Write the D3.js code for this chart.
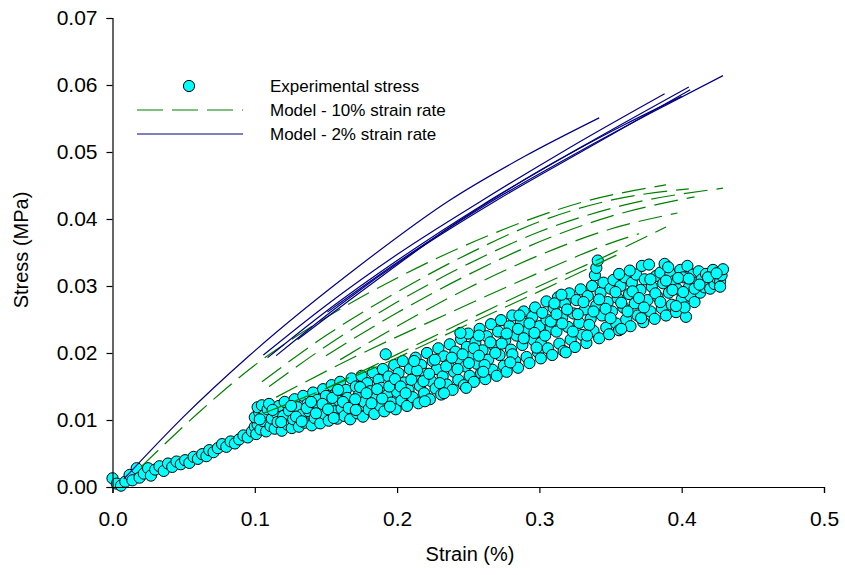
<!DOCTYPE html>
<html><head><meta charset="utf-8">
<script src="https://cdn.jsdelivr.net/npm/d3@7"></script>
<style>html,body{margin:0;padding:0;background:#fff}svg{display:block}</style>
</head><body>
<svg id="chart" width="845" height="575"></svg>
<script>
// ---- data ----
const xTicks = [0.0, 0.1, 0.2, 0.3, 0.4, 0.5];
const yTicks = [0.00, 0.01, 0.02, 0.03, 0.04, 0.05, 0.06, 0.07];
const legendLabels = ["Experimental stress", "Model - 10% strain rate", "Model - 2% strain rate"];

// experimental stress points [strain %, stress MPa]
const expLoading = [
 [0.000,0.0013],[0.003,0.0005],[0.006,0.0002],[0.009,0.0008],[0.012,0.0018],[0.014,0.0010],[0.017,0.0028],
 [0.019,0.0014],[0.022,0.0020],[0.025,0.0028],[0.027,0.0017],[0.030,0.0026],[0.033,0.0031],[0.036,0.0024],
 [0.039,0.0035],[0.042,0.0030],[0.045,0.0038],[0.048,0.0034],[0.051,0.0040],[0.054,0.0036],[0.057,0.0045],
 [0.060,0.0042],[0.063,0.0049],[0.066,0.0046],[0.068,0.0055],[0.071,0.0052],[0.074,0.0058],[0.077,0.0064],
 [0.080,0.0060],[0.083,0.0068],[0.086,0.0065],[0.089,0.0071],[0.092,0.0077],[0.095,0.0074],[0.098,0.0083],[0.100,0.0090]
];
const expCycles1 = [
 [0.101,0.0079],[0.102,0.0093],[0.100,0.0104],[0.103,0.0112],[0.104,0.0086],[0.102,0.0119],[0.106,0.0098],[0.105,0.0122],
 [0.108,0.0083],[0.107,0.0108],[0.109,0.0116],[0.111,0.0091],[0.112,0.0102],[0.110,0.0124],[0.114,0.0087],[0.115,0.0111],
 [0.116,0.0097],[0.117,0.0121],[0.119,0.0084],[0.120,0.0106],
 [0.121,0.0127],[0.123,0.0093],[0.124,0.0114],[0.126,0.0088],[0.127,0.0101],[0.128,0.0131],[0.130,0.0119],[0.131,0.0090],
 [0.133,0.0108],[0.134,0.0136],[0.135,0.0096],[0.137,0.0124],[0.138,0.0113],[0.140,0.0092],[0.141,0.0141],[0.142,0.0103],
 [0.144,0.0130],[0.145,0.0118],[0.146,0.0095],[0.148,0.0146],[0.149,0.0109],[0.150,0.0136],[0.152,0.0099],[0.153,0.0123],
 [0.154,0.0152],[0.156,0.0113],[0.157,0.0140],[0.158,0.0102],[0.159,0.0129],[0.160,0.0157],
 [0.161,0.0117],[0.163,0.0106],[0.164,0.0145],[0.165,0.0133],[0.167,0.0101],[0.168,0.0162],[0.169,0.0122],[0.171,0.0150],
 [0.172,0.0110],[0.173,0.0137],[0.175,0.0166],[0.176,0.0105],[0.177,0.0127],[0.179,0.0155],[0.180,0.0116],[0.181,0.0143],
 [0.183,0.0171],[0.184,0.0109],[0.185,0.0132],[0.187,0.0160],[0.188,0.0121],[0.189,0.0148],[0.190,0.0176],[0.192,0.0198],
 [0.191,0.0113],[0.193,0.0137],[0.194,0.0165],[0.196,0.0126],[0.197,0.0153],[0.198,0.0182],[0.199,0.0116],[0.200,0.0142]
];
const expCycles2 = [
 [0.201,0.0170],[0.203,0.0129],[0.204,0.0188],[0.205,0.0156],[0.207,0.0121],[0.208,0.0145],[0.209,0.0176],[0.211,0.0134],
 [0.212,0.0163],[0.213,0.0193],[0.215,0.0125],[0.216,0.0151],[0.217,0.0182],[0.219,0.0140],[0.220,0.0169],[0.221,0.0200],
 [0.223,0.0131],[0.224,0.0158],[0.225,0.0188],[0.227,0.0147],[0.228,0.0176],[0.229,0.0207],[0.231,0.0138],[0.232,0.0165],
 [0.233,0.0195],[0.235,0.0153],[0.236,0.0183],[0.237,0.0213],[0.239,0.0145],[0.240,0.0172],[0.241,0.0202],[0.243,0.0160],
 [0.244,0.0190],[0.245,0.0221],[0.247,0.0152],[0.248,0.0180],[0.249,0.0209],[0.250,0.0229],
 [0.251,0.0166],[0.253,0.0196],[0.254,0.0157],[0.255,0.0216],[0.256,0.0184],[0.258,0.0236],[0.259,0.0170],[0.260,0.0204],
 [0.262,0.0161],[0.263,0.0225],[0.264,0.0190],[0.266,0.0243],[0.267,0.0175],[0.268,0.0211],[0.270,0.0166],[0.271,0.0232],
 [0.272,0.0197],[0.273,0.0249],[0.275,0.0181],[0.276,0.0219],[0.277,0.0172],[0.279,0.0240],[0.280,0.0205],[0.281,0.0256],
 [0.283,0.0188],[0.284,0.0226],[0.285,0.0178],[0.287,0.0247],[0.288,0.0212],[0.289,0.0262],[0.291,0.0194],[0.292,0.0233],
 [0.293,0.0185],[0.295,0.0254],[0.296,0.0219],[0.297,0.0268],[0.299,0.0201],[0.300,0.0240]
];
const expCycles3 = [
 [0.301,0.0192],[0.302,0.0260],[0.304,0.0226],[0.305,0.0277],[0.306,0.0207],[0.308,0.0247],[0.309,0.0197],[0.310,0.0267],
 [0.312,0.0232],[0.313,0.0283],[0.314,0.0214],[0.316,0.0253],[0.317,0.0203],[0.318,0.0273],[0.320,0.0239],[0.321,0.0289],
 [0.322,0.0220],[0.324,0.0259],[0.325,0.0209],[0.326,0.0279],[0.328,0.0245],[0.329,0.0295],[0.330,0.0227],[0.332,0.0265],
 [0.333,0.0215],[0.334,0.0285],[0.336,0.0251],[0.337,0.0300],[0.338,0.0233],[0.339,0.0316],[0.340,0.0327],[0.341,0.0338],
 [0.340,0.0271],[0.342,0.0222],[0.343,0.0290],[0.344,0.0256],[0.345,0.0305],[0.347,0.0238],[0.348,0.0276],[0.349,0.0228],
 [0.350,0.0296],
 [0.351,0.0262],[0.352,0.0309],[0.354,0.0244],[0.355,0.0282],[0.356,0.0234],[0.357,0.0300],[0.359,0.0268],[0.360,0.0313],
 [0.361,0.0250],[0.363,0.0288],[0.364,0.0240],[0.365,0.0305],[0.367,0.0274],[0.368,0.0317],[0.369,0.0256],[0.371,0.0294],
 [0.372,0.0330],[0.373,0.0246],[0.374,0.0310],[0.376,0.0279],[0.377,0.0332],[0.378,0.0262],[0.379,0.0299],[0.381,0.0251],
 [0.382,0.0315],[0.383,0.0284],[0.385,0.0320],[0.386,0.0267],[0.387,0.0304],[0.388,0.0333],[0.389,0.0256],[0.391,0.0290],
 [0.392,0.0318],[0.393,0.0272],[0.395,0.0308],[0.396,0.0261],[0.397,0.0295],[0.399,0.0324],[0.400,0.0280],[0.401,0.0313],
 [0.403,0.0254],[0.402,0.0268],[0.404,0.0330],[0.405,0.0298],[0.406,0.0285],[0.408,0.0317],[0.409,0.0276],[0.410,0.0305],
 [0.412,0.0322],[0.413,0.0290],[0.414,0.0310],[0.416,0.0298],[0.417,0.0318],[0.418,0.0306],[0.420,0.0296],[0.421,0.0314],
 [0.422,0.0324],[0.423,0.0303],[0.425,0.0311],[0.426,0.0320],[0.427,0.0307],[0.428,0.0316],[0.429,0.0325]
];
const expCycles4 = [
 [0.1035,0.0101],[0.1125,0.0115],[0.1185,0.0097],[0.1255,0.0121],[0.1290,0.0105],[0.1365,0.0118],[0.1395,0.0127],[0.1430,0.0110],
 [0.1475,0.0124],[0.1515,0.0116],[0.1545,0.0133],[0.1585,0.0145],[0.1620,0.0127],[0.1660,0.0118],[0.1705,0.0131],[0.1740,0.0149],
 [0.1785,0.0140],[0.1820,0.0125],[0.1860,0.0146],[0.1895,0.0132],[0.1945,0.0150],[0.1985,0.0161],[0.2025,0.0150],[0.2060,0.0140],
 [0.2100,0.0160],[0.2140,0.0174],[0.2185,0.0158],[0.2225,0.0169],[0.2265,0.0190],[0.2300,0.0155],[0.2345,0.0180],[0.2385,0.0193],
 [0.2425,0.0176],[0.2460,0.0198],[0.2505,0.0185],[0.2540,0.0207],[0.2575,0.0196],[0.2615,0.0182],[0.2655,0.0216],[0.2690,0.0200],
 [0.2735,0.0214],[0.2770,0.0229],[0.2810,0.0198],[0.2850,0.0236],[0.2890,0.0222],[0.2930,0.0244],[0.2965,0.0230],[0.3010,0.0215],
 [0.3050,0.0250],[0.3080,0.0236],[0.3120,0.0258],[0.3160,0.0244],[0.3195,0.0265],[0.3235,0.0232],[0.3270,0.0258],[0.3310,0.0276],
 [0.3350,0.0242],[0.3380,0.0262],[0.3420,0.0280],[0.3465,0.0266],[0.3500,0.0252],[0.3535,0.0291],[0.3575,0.0275],[0.3620,0.0262],
 [0.3655,0.0292],[0.3700,0.0282],[0.3735,0.0268],[0.3780,0.0310],[0.3815,0.0289],[0.3850,0.0276],[0.3890,0.0308],[0.3935,0.0294],
 [0.3975,0.0312],[0.4010,0.0291],[0.4050,0.0311],[0.4090,0.0296],[0.4125,0.0302],[0.4185,0.0313],[0.4245,0.0319],[0.4270,0.0299],
 [0.2445,0.0230],[0.3155,0.0287],[0.3560,0.0318],[0.3905,0.0328],[0.3635,0.0323],[0.2485,0.0148],[0.3185,0.0201],[0.3575,0.0236],
 [0.1330,0.0098],[0.1555,0.0103],[0.1710,0.0115],[0.1950,0.0120],[0.2195,0.0128],[0.2330,0.0140],[0.2605,0.0172],[0.2795,0.0186],
 [0.2980,0.0208],[0.3335,0.0226],[0.3715,0.0252],[0.3960,0.0270],[0.2120,0.0188],[0.2575,0.0226],[0.2860,0.0256],[0.3105,0.0274]
];

// Model - 2% strain rate (solid blue)
const model2 = [
 [[0.008,0.0012],[0.05,0.0105],[0.0966,0.0197],[0.174,0.0331],[0.237,0.0428],[0.29,0.0494],[0.342,0.0551]],
 [[0.106,0.0197],[0.15,0.0271],[0.2,0.0347],[0.26,0.0428],[0.32,0.0505],[0.388,0.0587]],
 [[0.109,0.0193],[0.15,0.0262],[0.2,0.0338],[0.26,0.0421],[0.33,0.0508],[0.405,0.0597]],
 [[0.115,0.0196],[0.16,0.0272],[0.21,0.0348],[0.27,0.0428],[0.34,0.0513],[0.406,0.0593]],
 [[0.151,0.0261],[0.2,0.0335],[0.26,0.0418],[0.33,0.0503],[0.38,0.0560],[0.429,0.0614]],
 [[0.13,0.0220],[0.18,0.0300],[0.24,0.0392],[0.3,0.0472],[0.36,0.0541],[0.40,0.0583]]
];
// Model - 10% strain rate (dashed green)
const model10 = [
 [[0.02,0.0030],[0.06,0.0110],[0.097,0.0177],[0.144,0.0245],[0.2,0.0312],[0.265,0.0376],[0.33,0.0425],[0.389,0.0451]],
 [[0.105,0.0157],[0.15,0.0226],[0.2,0.0291],[0.25,0.0348],[0.3,0.0396],[0.35,0.0428],[0.405,0.0445]],
 [[0.11,0.0150],[0.15,0.0210],[0.2,0.0276],[0.25,0.0333],[0.3,0.0381],[0.36,0.0421],[0.429,0.0446]],
 [[0.15,0.0196],[0.2,0.0260],[0.25,0.0317],[0.3,0.0366],[0.35,0.0404],[0.409,0.0433]],
 [[0.16,0.0190],[0.2,0.0240],[0.25,0.0297],[0.3,0.0346],[0.35,0.0385],[0.397,0.0409]],
 [[0.115,0.0134],[0.17,0.0194],[0.237,0.0260],[0.3,0.0320],[0.35,0.0364],[0.37,0.0378]],
 [[0.151,0.0148],[0.2,0.0198],[0.25,0.0250],[0.3,0.0300],[0.35,0.0348],[0.389,0.0388]],
 [[0.106,0.0110],[0.15,0.0147],[0.2,0.0193],[0.25,0.0243],[0.3,0.0292],[0.358,0.0350]]
];

// ---- build ----
const expPoints = expLoading.concat(expCycles1, expCycles4.slice(0, 20), expCycles2, expCycles4.slice(20, 50), expCycles3, expCycles4.slice(50));

const svg = d3.select("#chart");
const font = "'Liberation Sans', Arial, sans-serif";
const x = d3.scaleLinear().domain([0, 0.5]).range([112.5, 824]);
const y = d3.scaleLinear().domain([0, 0.07]).range([487, 18]);

const blue = "#000080", green = "#008000", cyan = "#00FFFF";

svg.append("g").selectAll("circle").data(expPoints).join("circle")
  .attr("cx", d => x(d[0])).attr("cy", d => y(d[1])).attr("r", 5.6)
  .attr("fill", cyan).attr("stroke", "#000").attr("stroke-width", 1);

const line = d3.line().x(d => x(d[0])).y(d => y(d[1])).curve(d3.curveMonotoneX);

svg.append("g").selectAll("path").data(model10).join("path")
  .attr("d", line).attr("fill", "none").attr("stroke", green)
  .attr("stroke-width", 1.2).attr("stroke-dasharray", "24,9");

svg.append("g").selectAll("path").data(model2).join("path")
  .attr("d", line).attr("fill", "none").attr("stroke", blue).attr("stroke-width", 1.2);

// axes
const xAxis = d3.axisBottom(x).tickValues(xTicks).tickFormat(d3.format(".1f")).tickSizeOuter(0).tickSize(6).tickPadding(18);
const yAxis = d3.axisLeft(y).tickValues(yTicks).tickFormat(d3.format(".2f")).tickSizeOuter(0).tickSize(6).tickPadding(9);

const gx = svg.append("g").attr("transform", "translate(0,487)").call(xAxis);
const gy = svg.append("g").attr("transform", "translate(112.5,0)").call(yAxis);
[gx, gy].forEach(g => {
  g.selectAll("path,line").attr("stroke", "#000").attr("stroke-width", 1.2);
  g.selectAll("text").attr("font-family", font).attr("font-size", 21).attr("fill", "#000");
});

svg.append("text").attr("x", 470).attr("y", 561).attr("text-anchor", "middle")
  .attr("font-family", font).attr("font-size", 20).text("Strain (%)");
svg.append("text").attr("transform", "translate(28,250) rotate(-90)").attr("text-anchor", "middle")
  .attr("font-family", font).attr("font-size", 20).text("Stress (MPa)");

// legend
const lg = svg.append("g");
const ly = [86, 110, 134];
lg.append("circle").attr("cx", 189).attr("cy", ly[0]).attr("r", 5.6)
  .attr("fill", cyan).attr("stroke", "#000");
lg.append("line").attr("x1", 137).attr("x2", 243).attr("y1", ly[1]).attr("y2", ly[1])
  .attr("stroke", green).attr("stroke-width", 1.2).attr("stroke-dasharray", "26,9");
lg.append("line").attr("x1", 137).attr("x2", 243).attr("y1", ly[2]).attr("y2", ly[2])
  .attr("stroke", blue).attr("stroke-width", 1.2);
lg.selectAll("text").data(legendLabels).join("text")
  .attr("x", 270).attr("y", (d, i) => ly[i]).attr("dy", "0.35em")
  .attr("font-family", font).attr("font-size", 17).text(d => d);
</script>
</body></html>
